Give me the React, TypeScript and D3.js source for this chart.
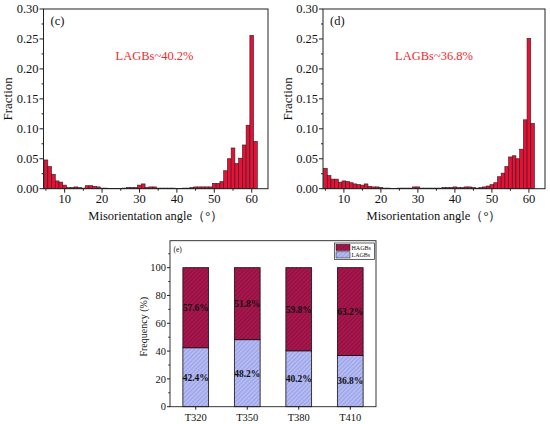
import React from "react";
import * as d3 from "d3";

// ---------- data ----------
const anglesC = d3.range(5, 62); // bin centres (degrees)
const fractionC = [
  0.048, 0.037, 0.024, 0.013, 0.011, 0.006, 0.002, 0.002, 0.003, 0.002,
  0.001, 0.005, 0.005, 0.004, 0.003, 0.001, 0.001, 0.0005, 0.0005, 0.0005,
  0.0005, 0.001, 0.002, 0.002, 0.002, 0.006, 0.008, 0.002, 0.003, 0.003,
  0.001, 0.001, 0.001, 0.001, 0.001, 0.0005, 0.0005, 0.001, 0.001, 0.002,
  0.003, 0.003, 0.003, 0.003, 0.003, 0.009, 0.009, 0.012, 0.030, 0.050,
  0.068, 0.042, 0.051, 0.073, 0.106, 0.256, 0.079,
];
const anglesD = d3.range(5, 62);
const fractionD = [
  0.034, 0.022, 0.016, 0.016, 0.011, 0.013, 0.012, 0.010, 0.008, 0.007,
  0.006, 0.008, 0.004, 0.003, 0.003, 0.002, 0.001, 0.001, 0.0005, 0.0005,
  0.001, 0.001, 0.001, 0.001, 0.003, 0.003, 0.001, 0.001, 0.001, 0.001,
  0.001, 0.001, 0.002, 0.002, 0.002, 0.003, 0.002, 0.002, 0.003, 0.003,
  0.002, 0.001, 0.002, 0.003, 0.0045, 0.0067, 0.010, 0.020, 0.026, 0.037,
  0.053, 0.055, 0.050, 0.066, 0.115, 0.251, 0.109,
];
const histTicksY = [0, 0.05, 0.1, 0.15, 0.2, 0.25, 0.3];
const histTicksX = [10, 20, 30, 40, 50, 60];

const samples = ["T320", "T350", "T380", "T410"];
const lagbs = [42.4, 48.2, 40.2, 36.8];
const hagbs = [57.6, 51.8, 59.8, 63.2];
const freqTicks = [0, 20, 40, 60, 80, 100];

const FONT = "'Liberation Serif', 'Times New Roman', serif";
const BAR_RED = "#ea0f34";

type HistProps = {
  angles: number[];
  values: number[];
  left: number;
  right: number;
  label: string;
  note: string;
};

function Histogram({ angles, values, left, right, label, note }: HistProps) {
  const top = 9;
  const bottom = 188.7;
  const x = d3.scaleLinear().domain([4.35, 64.35]).range([left, right]);
  const y = d3.scaleLinear().domain([0, 0.3]).range([bottom, top]);
  const minorY = d3.range(0.025, 0.3, 0.05);
  const minorX = d3.range(5, 65, 10);
  const cx = (left + right) / 2;
  return (
    <g fontFamily={FONT} fill="#111">
      {angles.map((a, i) => (
        <rect
          key={a}
          x={x(a - 0.5)}
          y={y(values[i])}
          width={x(a + 0.5) - x(a - 0.5)}
          height={bottom - y(values[i])}
          fill={BAR_RED}
          stroke="#222"
          strokeWidth={0.6}
        />
      ))}
      <rect x={left} y={top} width={right - left} height={bottom - top} fill="none" stroke="#222" strokeWidth={1} />
      {histTicksY.map((t) => (
        <g key={t}>
          <line x1={left - 4} x2={left} y1={y(t)} y2={y(t)} stroke="#222" />
          <text x={left - 5} y={y(t)} dy="0.35em" textAnchor="end" fontSize={12.5}>
            {t.toFixed(2)}
          </text>
        </g>
      ))}
      {minorY.map((t) => (
        <line key={t} x1={left - 2} x2={left} y1={y(t)} y2={y(t)} stroke="#222" />
      ))}
      {histTicksX.map((t) => (
        <g key={t}>
          <line x1={x(t)} x2={x(t)} y1={bottom} y2={bottom + 4} stroke="#222" />
          <text x={x(t)} y={bottom + 13.8} textAnchor="middle" fontSize={12.5}>
            {t}
          </text>
        </g>
      ))}
      {minorX.map((t) => (
        <line key={t} x1={x(t)} x2={x(t)} y1={bottom} y2={bottom + 2} stroke="#222" />
      ))}
      <text
        transform={`translate(${left - 31.5},${(top + bottom) / 2}) rotate(-90)`}
        textAnchor="middle"
        fontSize={13}
      >
        Fraction
      </text>
      <text x={cx} y={219.5} textAnchor="middle" fontSize={12.5}>
        Misorientation angle（°）
      </text>
      <text x={left + 7} y={25} fontSize={12.5}>
        {label}
      </text>
      <text x={left + 111} y={59.5} textAnchor="middle" fontSize={12.5} fill="#f02a2f">
        {note}
      </text>
    </g>
  );
}

function StackedPanel() {
  const left = 170;
  const right = 376;
  const top = 240.7;
  const bottom = 406.7;
  const x = d3.scaleBand<string>().domain(samples).range([left, right]).paddingInner(0.5).paddingOuter(0.25);
  const y = d3.scaleLinear().domain([0, 119.4]).range([bottom, top]);
  const minor = d3.range(10, 120, 20);
  return (
    <g fontFamily={FONT} fill="#111">
      <defs>
        <pattern id="hatchH" patternUnits="userSpaceOnUse" width={3} height={3} patternTransform="rotate(45)">
          <rect width={3} height={3} fill="#a8164d" />
          <line x1={0} y1={0} x2={0} y2={3} stroke="#740c32" strokeWidth={1.1} />
        </pattern>
        <pattern id="hatchL" patternUnits="userSpaceOnUse" width={3} height={3} patternTransform="rotate(45)">
          <rect width={3} height={3} fill="#b4baf2" />
          <line x1={0} y1={0} x2={0} y2={3} stroke="#8088dc" strokeWidth={1} />
        </pattern>
      </defs>
      {samples.map((s, i) => {
        const bx = x(s) as number;
        const bw = x.bandwidth();
        return (
          <g key={s}>
            <rect x={bx} y={y(lagbs[i])} width={bw} height={bottom - y(lagbs[i])} fill="url(#hatchL)" stroke="#111" strokeWidth={0.8} />
            <rect
              x={bx}
              y={y(lagbs[i] + hagbs[i])}
              width={bw}
              height={y(lagbs[i]) - y(lagbs[i] + hagbs[i])}
              fill="url(#hatchH)"
              stroke="#111"
              strokeWidth={0.8}
            />
            <text x={bx + bw / 2} y={y(lagbs[i] / 2)} dy="0.35em" textAnchor="middle" fontSize={9.5} fontWeight="bold">
              {lagbs[i].toFixed(1)}%
            </text>
            <text
              x={bx + bw / 2}
              y={y(lagbs[i] + hagbs[i] / 2)}
              dy="0.35em"
              textAnchor="middle"
              fontSize={9.5}
              fontWeight="bold"
            >
              {hagbs[i].toFixed(1)}%
            </text>
            <line x1={bx + bw / 2} x2={bx + bw / 2} y1={bottom} y2={bottom + 3} stroke="#222" />
            <text x={bx + bw / 2} y={420.5} textAnchor="middle" fontSize={10.5}>
              {s}
            </text>
          </g>
        );
      })}
      <rect x={left} y={top} width={right - left} height={bottom - top} fill="none" stroke="#222" strokeWidth={0.9} />
      {freqTicks.map((t) => (
        <g key={t}>
          <line x1={left - 3} x2={left} y1={y(t)} y2={y(t)} stroke="#222" />
          <text x={left - 4} y={y(t)} dy="0.35em" textAnchor="end" fontSize={10.5}>
            {t}
          </text>
        </g>
      ))}
      {minor.map((t) => (
        <line key={t} x1={left - 1.7} x2={left} y1={y(t)} y2={y(t)} stroke="#222" />
      ))}
      <text transform={`translate(147,${(top + bottom) / 2 + 3}) rotate(-90)`} textAnchor="middle" fontSize={10}>
        Frequency (%)
      </text>
      <text x={173.5} y={252} fontSize={7.5}>
        (e)
      </text>
      <rect x={334.5} y={243} width={40} height={16.5} fill="#fff" stroke="#222" strokeWidth={0.7} />
      <rect x={336} y={244.3} width={14} height={6.2} fill="url(#hatchH)" stroke="#111" strokeWidth={0.5} />
      <rect x={336} y={251.8} width={14} height={6.2} fill="url(#hatchL)" stroke="#111" strokeWidth={0.5} />
      <text x={351.5} y={249.8} fontSize={6}>
        HAGBs
      </text>
      <text x={351.5} y={257.3} fontSize={6}>
        LAGBs
      </text>
    </g>
  );
}

export default function App() {
  return (
    <svg width={550} height={424} style={{ position: "absolute", left: 0, top: 0, background: "#fff" }}>
      <rect width={550} height={424} fill="#fff" />
      <Histogram angles={anglesC} values={fractionC} left={43.5} right={268} label="(c)" note="LAGBs~40.2%" />
      <Histogram angles={anglesD} values={fractionD} left={323} right={545} label="(d)" note="LAGBs~36.8%" />
      <StackedPanel />
    </svg>
  );
}
